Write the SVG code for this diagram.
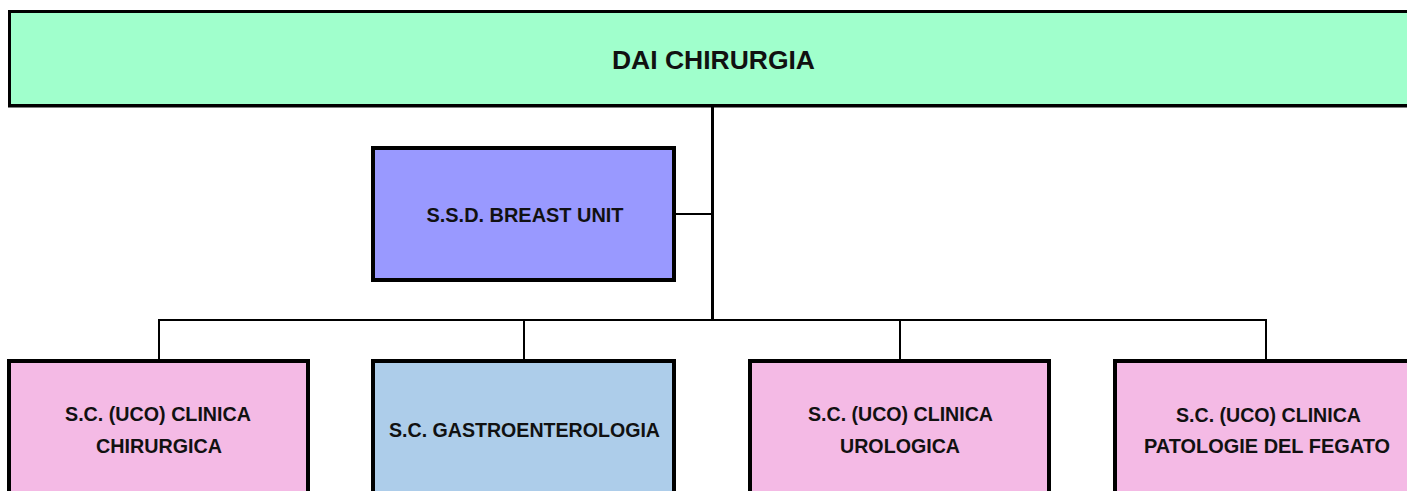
<svg xmlns="http://www.w3.org/2000/svg" width="1407" height="491" viewBox="0 0 1407 491">
  <style>
    .box { stroke: #000; stroke-width: 4; }
    .root { fill: #A0FFCC; stroke: #000; stroke-width: 3; }
    .ssd { fill: #9999FF; }
    .uco { fill: #F4BAE5; }
    .sc { fill: #ADCDEA; }
    .link { stroke: #000; stroke-width: 2; fill: none; }
    .trunk { stroke: #000; stroke-width: 3; fill: none; }
    text { font-family: "Liberation Sans", Arial, sans-serif; font-weight: bold; fill: #111; text-anchor: middle; }
    .lbl { font-size: 19.5px; }
    .title { font-size: 26px; }
  </style>

  <!-- connectors -->
  <g id="connectors">
    <line class="trunk" x1="712.5" y1="106" x2="712.5" y2="321"/>
    <line class="link" x1="674" y1="214" x2="712" y2="214"/>
    <line class="link" x1="158" y1="320" x2="1267" y2="320"/>
    <line class="link" x1="159" y1="319" x2="159" y2="361"/>
    <line class="link" x1="524" y1="319" x2="524" y2="361"/>
    <line class="link" x1="900" y1="319" x2="900" y2="361"/>
    <line class="link" x1="1266" y1="319" x2="1266" y2="361"/>
  </g>

  <!-- department header -->
  <g id="dai-chirurgia">
    <rect class="root" x="9.5" y="11.5" width="1410" height="94"/>
    <rect x="8" y="104" width="1410" height="3.5" fill="#000"/>
    <text class="title" x="713.5" y="68.5" textLength="203" lengthAdjust="spacingAndGlyphs">DAI CHIRURGIA</text>
  </g>

  <!-- staff unit -->
  <g id="breast-unit">
    <rect class="box ssd" x="373" y="148" width="301" height="132"/>
    <text class="lbl" x="525" y="221.5" textLength="197" lengthAdjust="spacingAndGlyphs">S.S.D. BREAST UNIT</text>
  </g>

  <!-- complex structures -->
  <g id="clinica-chirurgica">
    <rect class="box uco" x="9" y="361" width="299" height="150"/>
    <text class="lbl" x="158" y="421" textLength="186" lengthAdjust="spacingAndGlyphs">S.C. (UCO) CLINICA</text>
    <text class="lbl" x="159" y="453" textLength="126" lengthAdjust="spacingAndGlyphs">CHIRURGICA</text>
  </g>

  <g id="gastroenterologia">
    <rect class="box sc" x="373" y="361" width="301" height="150"/>
    <text class="lbl" x="524.5" y="436.5" textLength="271" lengthAdjust="spacingAndGlyphs">S.C. GASTROENTEROLOGIA</text>
  </g>

  <g id="clinica-urologica">
    <rect class="box uco" x="750" y="361" width="299" height="150"/>
    <text class="lbl" x="900.5" y="421" textLength="185" lengthAdjust="spacingAndGlyphs">S.C. (UCO) CLINICA</text>
    <text class="lbl" x="900" y="453" textLength="120" lengthAdjust="spacingAndGlyphs">UROLOGICA</text>
  </g>

  <g id="clinica-patologie-fegato">
    <rect class="box uco" x="1115" y="361" width="305" height="150"/>
    <text class="lbl" x="1268.5" y="421.5" textLength="185" lengthAdjust="spacingAndGlyphs">S.C. (UCO) CLINICA</text>
    <text class="lbl" x="1267" y="453" textLength="246" lengthAdjust="spacingAndGlyphs">PATOLOGIE DEL FEGATO</text>
  </g>
</svg>
